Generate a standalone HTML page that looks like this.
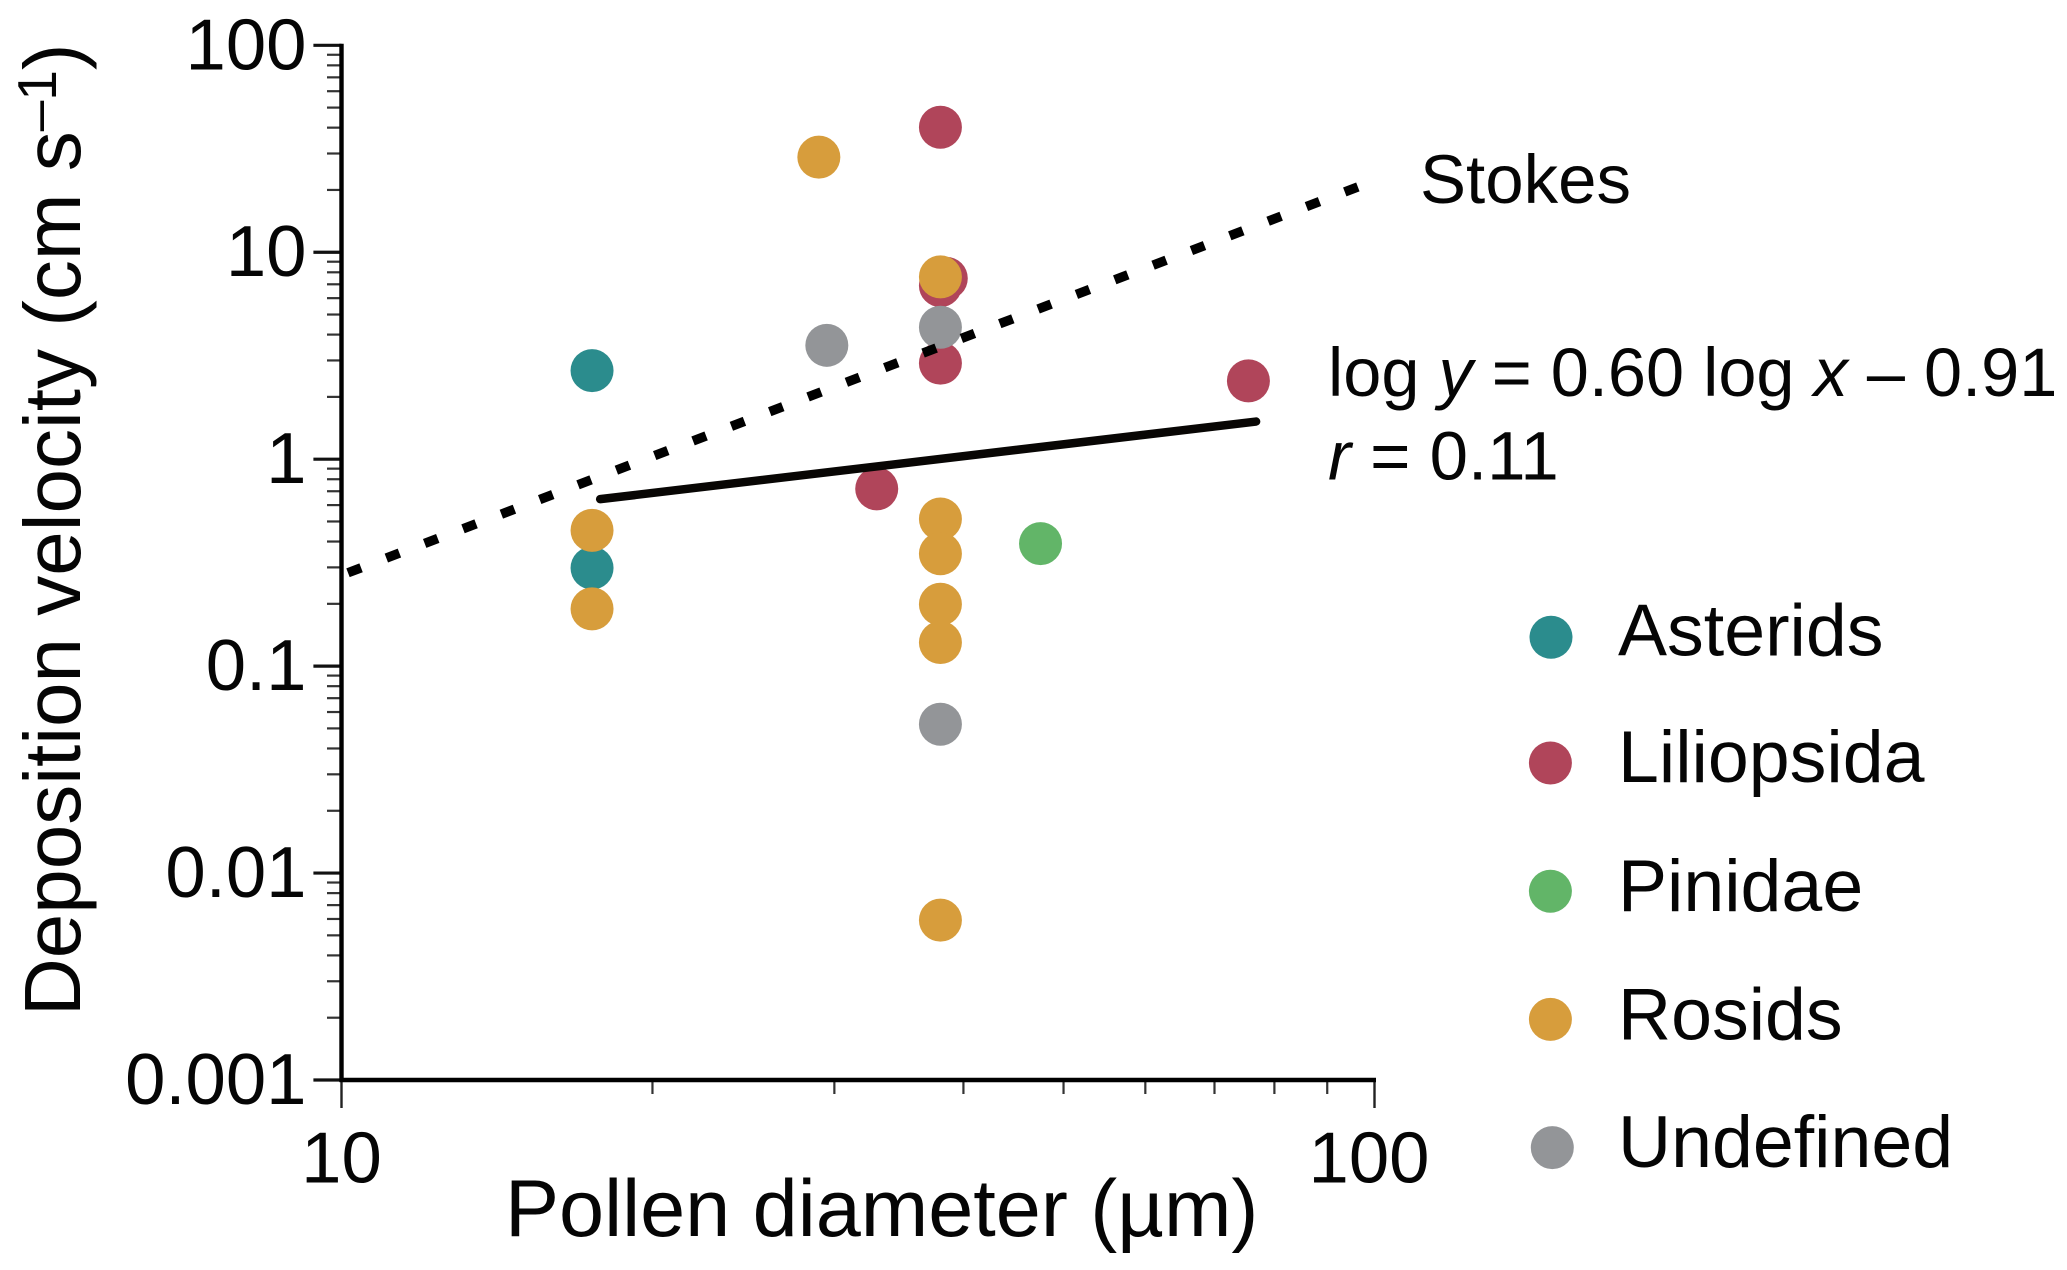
<!DOCTYPE html>
<html lang="en">
<head>
<meta charset="utf-8">
<title>Pollen deposition velocity vs diameter</title>
<style>
html,body{margin:0;padding:0;background:#fff;}
svg{display:block;}
text{font-family:"Liberation Sans",Arial,sans-serif;fill:#050505;}
</style>
</head>
<body>
<svg id="chart" xmlns="http://www.w3.org/2000/svg" width="2067" height="1270" viewBox="0 0 2067 1270">
  <rect x="0" y="0" width="2067" height="1270" fill="#ffffff"/>
  <g id="minor-ticks"></g>
  <g id="major-ticks"></g>
  <g id="tick-labels" font-size="72.5"></g>
  <g id="axes"></g>
  <g id="points"></g>
  <path id="fit-line" fill="none" stroke="#080604" stroke-width="8.5" stroke-linecap="round"/>
  <path id="stokes-line" fill="none" stroke="#000" stroke-width="9.5" stroke-dasharray="14 27.04"/>

  <text x="505" y="1236" font-size="81">Pollen diameter (µm)</text>
  <text transform="translate(80,1016) rotate(-90)" font-size="80">Deposition velocity (cm s<tspan font-size="55" dy="-24">–1</tspan><tspan dy="24">)</tspan></text>

  <text x="1420" y="203" font-size="69">Stokes</text>
  <text x="1328" y="396" font-size="68.5">log <tspan font-style="italic">y</tspan> = 0.60 log <tspan font-style="italic">x</tspan> – 0.91</text>
  <text x="1328" y="479.5" font-size="69"><tspan font-style="italic">r</tspan> = 0.11</text>

  <g font-size="73.5">
    <g>
      <circle cx="1551" cy="637.3" r="21.5" fill="#2b8c8d"/>
      <text x="1618" y="655.7">Asterids</text>
    </g>
    <g>
      <circle cx="1550.4" cy="763" r="21.5" fill="#b0455a"/>
      <text x="1618" y="782">Liliopsida</text>
    </g>
    <g>
      <circle cx="1550.4" cy="891.2" r="21.5" fill="#62b568"/>
      <text x="1618" y="911">Pinidae</text>
    </g>
    <g>
      <circle cx="1550.4" cy="1019.4" r="21.5" fill="#d79d3c"/>
      <text x="1618" y="1039.5">Rosids</text>
    </g>
    <g>
      <circle cx="1552.3" cy="1147.6" r="21.5" fill="#939598"/>
      <text x="1618" y="1167">Undefined</text>
    </g>
  </g>
</svg>
<script>
// Data
const asteridsX = [17.48, 17.48];
const asteridsY = [2.68, 0.298];
const liliopsidaX = [38.0, 38.0, 38.5, 38.0, 75.5, 32.97];
const liliopsidaY = [40.2, 6.9, 7.48, 2.91, 2.39, 0.719];
const pinidaeX = [47.5];
const pinidaeY = [0.391];
const undefinedX = [29.5, 38.0, 38.0];
const undefinedY = [3.55, 4.34, 0.0524];
const rosidsX = [28.98, 38.0, 38.0, 38.0, 38.0, 38.0, 38.0, 17.48, 17.48];
const rosidsY = [28.8, 7.6, 0.514, 0.349, 0.199, 0.130, 0.00592, 0.453, 0.189];
const fitX = [17.8, 76.8];
const fitY = [0.641, 1.52];
const stokesX = [10.146, 96.4];
const stokesY = [0.2826, 20.7];
const yTickValues = [100, 10, 1, 0.1, 0.01, 0.001];
const yTickLabels = ["100", "10", "1", "0.1", "0.01", "0.001"];
const xTickValues = [10, 100];
const xTickLabels = ["10", "100"];
const minorMultipliers = [2, 3, 4, 5, 6, 7, 8, 9];

// Axis functions (log-log)
const PLOT_LEFT = 341.5, PLOT_RIGHT = 1374.5, PLOT_TOP = 45.3, PLOT_BOTTOM = 1080;
function xScale(v) {
  return PLOT_LEFT + (Math.log10(v) - 1) * (PLOT_RIGHT - PLOT_LEFT);
}
function yScale(v) {
  return PLOT_TOP + (2 - Math.log10(v)) / 5 * (PLOT_BOTTOM - PLOT_TOP);
}

const NS = "http://www.w3.org/2000/svg";
function line(parent, x1, y1, x2, y2, color, width) {
  const l = document.createElementNS(NS, "line");
  l.setAttribute("x1", x1);
  l.setAttribute("y1", y1);
  l.setAttribute("x2", x2);
  l.setAttribute("y2", y2);
  l.setAttribute("stroke", color);
  l.setAttribute("stroke-width", width);
  parent.appendChild(l);
  return l;
}

const minorG = document.getElementById("minor-ticks");
const majorG = document.getElementById("major-ticks");
const labelG = document.getElementById("tick-labels");
const axesG = document.getElementById("axes");

// Minor ticks
yTickValues.slice(1).forEach(function (base) {
  minorMultipliers.forEach(function (m) {
    const y = yScale(base * m);
    const t = line(minorG, 327, y, PLOT_LEFT, y, "#333", 2.2);
    
    
  });
});
minorMultipliers.forEach(function (m) {
  const x = xScale(10 * m);
  const t = line(minorG, x, PLOT_BOTTOM, x, 1094, "#333", 2.2);
  
  
});

// Major ticks and labels
yTickValues.forEach(function (v, i) {
  const y = yScale(v);
  const t = line(majorG, 313.4, y, PLOT_LEFT, y, "#111", 3.2);
  
  
  const lab = document.createElementNS(NS, "text");
  
  
  lab.setAttribute("x", 306.5);
  lab.setAttribute("y", y + 24);
  lab.setAttribute("text-anchor", "end");
  lab.textContent = yTickLabels[i];
  labelG.appendChild(lab);
});
const xLabelShift = [0, -5.5];
xTickValues.forEach(function (v, i) {
  const x = xScale(v);
  const t = line(majorG, x, PLOT_BOTTOM, x, 1108, "#222", 2.4);
  
  
  const lab = document.createElementNS(NS, "text");
  
  
  lab.setAttribute("x", x + xLabelShift[i]);
  lab.setAttribute("y", 1182.4);
  lab.setAttribute("text-anchor", "middle");
  lab.textContent = xTickLabels[i];
  labelG.appendChild(lab);
});

// Axis lines
const yAxisLine = line(axesG, PLOT_LEFT, PLOT_TOP - 1.5, PLOT_LEFT, PLOT_BOTTOM + 2, "#000", 4.4);


const xAxisLine = line(axesG, PLOT_LEFT - 2, PLOT_BOTTOM, PLOT_RIGHT + 1.5, PLOT_BOTTOM, "#000", 4.4);



// Points
const pointsG = document.getElementById("points");
function drawSeries(name, xs, ys, color) {
  xs.forEach(function (xv, i) {
    const c = document.createElementNS(NS, "circle");
    
    
    c.setAttribute("cx", xScale(xv));
    c.setAttribute("cy", yScale(ys[i]));
    c.setAttribute("r", 21.5);
    c.setAttribute("fill", color);
    pointsG.appendChild(c);
  });
}
drawSeries("asterids", asteridsX, asteridsY, "#2b8c8d");
drawSeries("liliopsida", liliopsidaX, liliopsidaY, "#b0455a");
drawSeries("pinidae", pinidaeX, pinidaeY, "#62b568");
drawSeries("undefined", undefinedX, undefinedY, "#939598");
drawSeries("rosids", rosidsX, rosidsY, "#d79d3c");

// Lines
function pathFrom(xs, ys) {
  return xs.map(function (xv, i) {
    return (i ? "L" : "M") + xScale(xv).toFixed(2) + " " + yScale(ys[i]).toFixed(2);
  }).join(" ");
}
document.getElementById("fit-line").setAttribute("d", pathFrom(fitX, fitY));
document.getElementById("stokes-line").setAttribute("d", pathFrom(stokesX, stokesY));
</script>
</body>
</html>
